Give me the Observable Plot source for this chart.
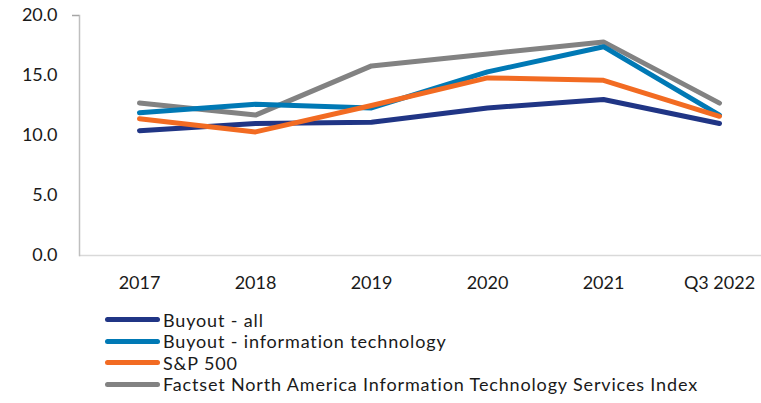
<!DOCTYPE html>
<html><head><meta charset="utf-8">
<script src="https://cdn.jsdelivr.net/npm/d3@7"></script>
<script src="https://cdn.jsdelivr.net/npm/@observablehq/plot@0.6"></script>
<style>
body{margin:0;background:#fff;font-family:Lato,"Open Sans",sans-serif;}
#legend{margin-left:105px;margin-top:9px;font-size:18px;color:#1a1a1a;letter-spacing:0.85px;}
.item{display:flex;align-items:center;height:21.5px;}
.sw{width:55px;height:5px;border-radius:3px;margin-right:3px;}
</style></head>
<body>
<div id="chart"></div>
<div id="legend"></div>
<script>
const periods = ["2017","2018","2019","2020","2021","Q3 2022"];
const seriesNames = ["Buyout - all","Buyout - information technology","S&P 500","Factset North America Information Technology Services Index"];
const colors = ["#203585","#0079b5","#f26b22","#828282"];
const buyoutAll = [10.4, 11.0, 11.1, 12.3, 13.0, 11.0];
const buyoutIT = [11.9, 12.6, 12.3, 15.3, 17.4, 11.7];
const sp500 = [11.4, 10.3, 12.5, 14.8, 14.6, 11.6];
const factset = [12.7, 11.7, 15.8, 16.8, 17.8, 12.7];
const yTicks = [0, 5, 10, 15, 20];

const allSeries = [buyoutAll, buyoutIT, sp500, factset];
const rows = [];
const drawOrder = [3, 0, 1, 2];
drawOrder.forEach(i => periods.forEach((p, j) => rows.push({series: seriesNames[i], period: p, value: allSeries[i][j]})));

const plot = Plot.plot({
  width: 761, height: 300,
  marginLeft: 79, marginRight: 0, marginTop: 15, marginBottom: 45,
  style: {fontFamily: "Lato, 'Open Sans', sans-serif", fontSize: "18px", color: "#1a1a1a", background: "#fff"},
  x: {type: "point", domain: periods, range: [79, 778], padding: 0.5, label: null},
  y: {domain: [0, 20], label: null},
  color: {domain: seriesNames, range: colors},
  marks: [
    Plot.ruleY([0], {stroke: "#d9d9d9", strokeWidth: 1.5}),
    Plot.frame({anchor: "left", stroke: "#bfbfbf", strokeWidth: 1.5}),
    Plot.axisY({ticks: yTicks, tickFormat: d => d.toFixed(1), tickSize: 0, tickPadding: 22, fill: "#1a1a1a", fontSize: 18}),
    Plot.axisY({ticks: [20], tickFormat: () => "", tickSize: 7, stroke: "#a6a6a6", strokeWidth: 1.5}),
    Plot.axisX({tickSize: 0, tickPadding: 21, fill: "#1a1a1a", fontSize: 18}),
    Plot.lineY(rows, {x: "period", y: "value", z: "series", stroke: "series", strokeWidth: 5, strokeLinecap: "round", strokeLinejoin: "round"})
  ]
});
document.getElementById("chart").appendChild(plot);

const lg = document.getElementById("legend");
seriesNames.forEach((n, i) => {
  const d = document.createElement("div"); d.className = "item";
  d.innerHTML = `<div class="sw" style="background:${colors[i]}"></div><span>${n}</span>`;
  lg.appendChild(d);
});
</script>
</body></html>
